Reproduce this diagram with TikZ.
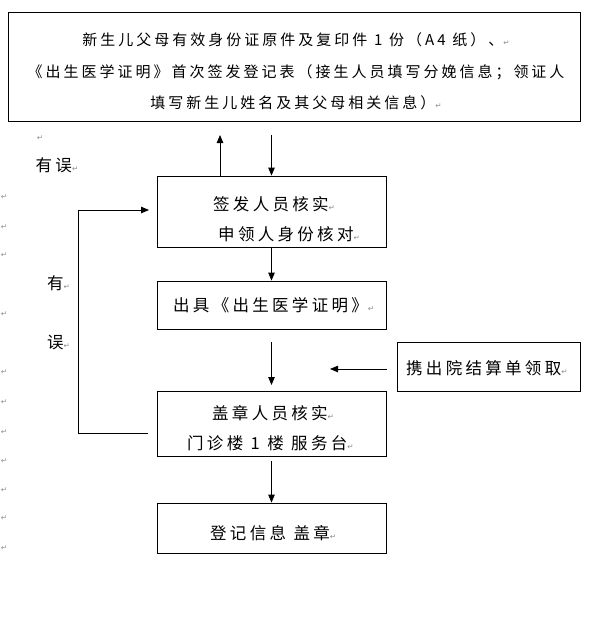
\documentclass[tikz,border=0pt]{standalone}
\usepackage{fontspec}
\setmainfont{Noto Sans CJK SC}[LetterSpace=20]
\newfontfamily\markfont{DejaVu Sans}
\usetikzlibrary{arrows.meta}

% Word paragraph mark
\newcommand{\pmark}{{\markfont\fontsize{7.5pt}{7.5pt}\selectfont\color{black!45}↵}}
\newcommand{\gapw}{\hspace{0.45em}}

\tikzset{
  box/.style={draw, line width=0.8pt, inner sep=0pt},
  txt/.style={inner sep=0pt, font=\fontsize{16.5pt}{30pt}\selectfont},
  flow/.style={line width=0.8pt, -{Triangle[length=8pt,width=6.5pt]}}
}

\begin{document}
\begin{tikzpicture}[x=1pt,y=-1pt]
    \useasboundingbox (0,0) rectangle (593,627);

    % Boxes
    \node[box, minimum width=572pt, minimum height=109pt] (reg) at (294,66.5) {};
    \node[box, minimum width=229pt, minimum height=71pt] (b2) at (271.5,211.5) {};
    \node[box, minimum width=229pt, minimum height=48pt] (b3) at (271.5,305) {};
    \node[box, minimum width=183pt, minimum height=49pt] (b5) at (488.5,366.5) {};
    \node[box, minimum width=229pt, minimum height=65pt] (b4) at (271.5,423.5) {};
    \node[box, minimum width=229pt, minimum height=50pt] (b6) at (271.5,528) {};

    % Texts
    \node[txt, align=center, font=\fontsize{15pt}{31.5pt}\selectfont] (regt) at (296,71.5)
      {新生儿父母有效身份证原件及复印件{\gapw}1{\gapw}份（A4{\gapw}纸）、\pmark\\
       《出生医学证明》首次签发登记表（接生人员填写分娩信息；领证人\\
       填写新生儿姓名及其父母相关信息）\pmark};
    \node[txt, align=left, anchor=west] (b2t) at (213,219)
      {签发人员核实\pmark\\\hspace*{5pt}申领人身份核对\pmark};
    \node[txt, anchor=west] (b3t) at (173,305) {出具《出生医学证明》\pmark};
    \node[txt, anchor=west] (b5t) at (406,368) {携出院结算单领取\pmark};
    \node[txt, align=left, anchor=west] (b4t) at (187,428)
      {\hspace*{25pt}盖章人员核实\pmark\\门诊楼{\gapw}1{\gapw}楼{\gapw}服务台\pmark};
    \node[txt, anchor=west] (b6t) at (210,533) {登记信息{\gapw}盖章\pmark};

    % Side labels
    \node[txt] (err) at (57,165) {有误\pmark};
    \node[txt, anchor=west] (err1) at (47,283) {有\pmark};
    \node[txt, anchor=west] (err2) at (47,342) {误\pmark};

    % Stray paragraph marks
    \node[inner sep=0pt] (pm0) at (40,138) {\pmark};
    \foreach \y [count=\i] in {197,227,255,314,372,402,432,461,490,518,548}
      \node[inner sep=0pt] (pm\i) at (4,\y) {\pmark};

    % Connectors
    \coordinate (upend) at (220,135);
    \coordinate (dnbeg) at (271.5,135);
    \draw[flow] (b2.north -| upend) -- (upend);
    \draw[flow] (dnbeg) -- (dnbeg |- b2.north);
    \draw[flow] (b2.south) -- (b3.north);

    \coordinate (midbeg) at (271.5,342);
    \coordinate (midend) at (271.5,385);
    \draw[flow] (midbeg) -- (midend);

    \coordinate (billbeg) at (387,369);
    \coordinate (billend) at (330,369);
    \draw[flow] (billbeg) -- (billend);

    \coordinate (lastbeg) at (271.5,461);
    \draw[flow] (lastbeg) -- (b6.north);

    % Loop back (error)
    \coordinate (loopbeg) at (148,433);
    \coordinate (loopend) at (149,210);
    \draw[flow] (loopbeg) -- (78,433) |- (loopend);

  \end{tikzpicture}
\end{document}
